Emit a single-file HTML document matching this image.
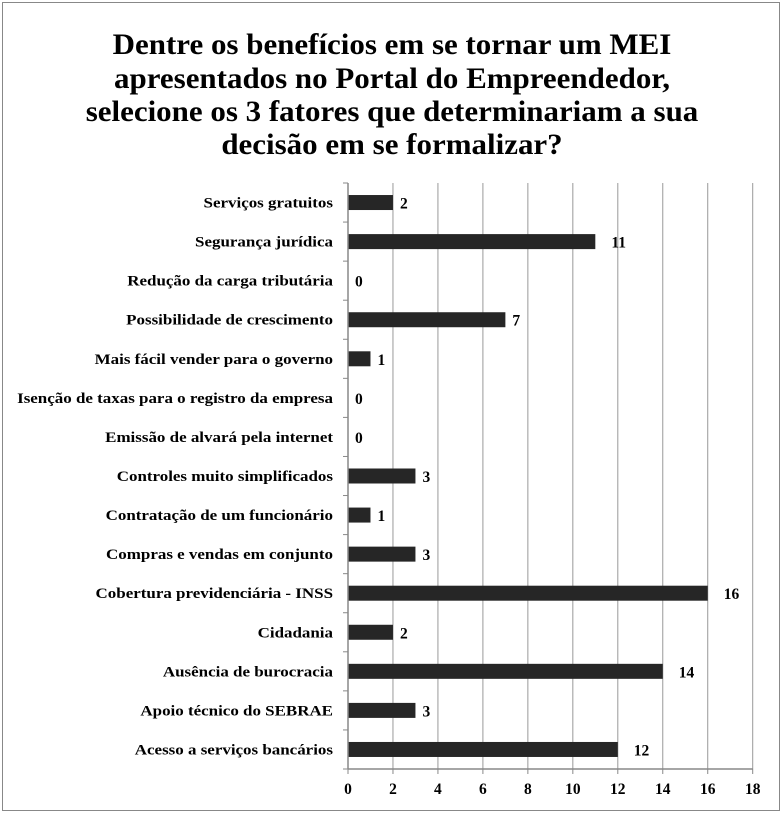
<!DOCTYPE html>
<html><head><meta charset="utf-8"><style>
body{margin:0;background:#fff;}
svg text{font-family:"Liberation Serif",serif;font-weight:bold;fill:#000;}
</style></head><body>
<svg id="chart" width="783" height="813">
<rect x="2.5" y="2.5" width="777" height="808" fill="#fff" stroke="#888"/>
<g font-size="29.5" text-anchor="middle" transform="translate(392,0) scale(1.05,1) translate(-392,0)">
<text x="392" y="54">Dentre os benefícios em se tornar um MEI</text>
<text x="392" y="88">apresentados no Portal do Empreendedor,</text>
<text x="392" y="121">selecione os 3 fatores que determinariam a sua</text>
<text x="392" y="154">decisão em se formalizar?</text>
</g>
<g id="labels" transform="translate(333,0) scale(1.17,1) translate(-333,0)"></g>
<g id="plot"></g>
</svg>
<script>
const categories=["Serviços gratuitos","Segurança jurídica","Redução da carga tributária","Possibilidade de crescimento","Mais fácil vender para o governo","Isenção de taxas para o registro da empresa","Emissão de alvará pela internet","Controles muito simplificados","Contratação de um funcionário","Compras e vendas em conjunto","Cobertura previdenciária - INSS","Cidadania","Ausência de burocracia","Apoio técnico do SEBRAE","Acesso a serviços bancários"];
const values=[2,11,0,7,1,0,0,3,1,3,16,2,14,3,12];
const ticks=[0,2,4,6,8,10,12,14,16,18];
const NS="http://www.w3.org/2000/svg";
const g=document.getElementById('plot');
const gl=document.getElementById('labels');
const x0=348,xMax=752.7,yTop=183,yBot=769;
const xs=v=>x0+v*(xMax-x0)/18;
const band=(yBot-yTop)/categories.length;
const yc=i=>yTop+band*(i+0.5);
function mk(t,a,p){const e=document.createElementNS(NS,t);for(const k in a)e.setAttribute(k,a[k]);(p||g).appendChild(e);return e;}
ticks.forEach(t=>{
 if(t>0){const l=mk('line',{x1:xs(t),x2:xs(t),y1:yTop,y2:yBot,stroke:'#999','stroke-width':1});
 
 }
 const tk=mk('line',{x1:xs(t),x2:xs(t),y1:yBot,y2:yBot+5,stroke:'#888'});
 
 
 const tl=mk('text',{x:xs(t),y:yBot+25,'text-anchor':'middle','font-size':15.5});
 tl.textContent=t;
 
 
});
for(let i=0;i<=categories.length;i++){
 const tk=mk('line',{x1:x0-5,x2:x0,y1:yTop+band*i,y2:yTop+band*i,stroke:'#888'});
 
 
}
categories.forEach((c,i)=>{
 const y=yc(i);
 const lb=mk('text',{x:333,y:y+5,'text-anchor':'end','font-size':14.5},gl);
 lb.textContent=c;
 
 
 const b=mk('rect',{x:x0,y:y-7.5,width:xs(values[i])-x0,height:15,fill:'#262626'});
 
 
 const v=mk('text',{x:xs(values[i])+(values[i]>=10?16:7),y:y+6,'font-size':15.5});
 v.textContent=values[i];
 
 
});
const ax=mk('line',{x1:x0,x2:x0,y1:yTop,y2:yBot,stroke:'#888','stroke-width':1.5});


const bx=mk('line',{x1:x0,x2:xMax,y1:yBot,y2:yBot,stroke:'#888','stroke-width':1.5});


</script>
</body></html>
